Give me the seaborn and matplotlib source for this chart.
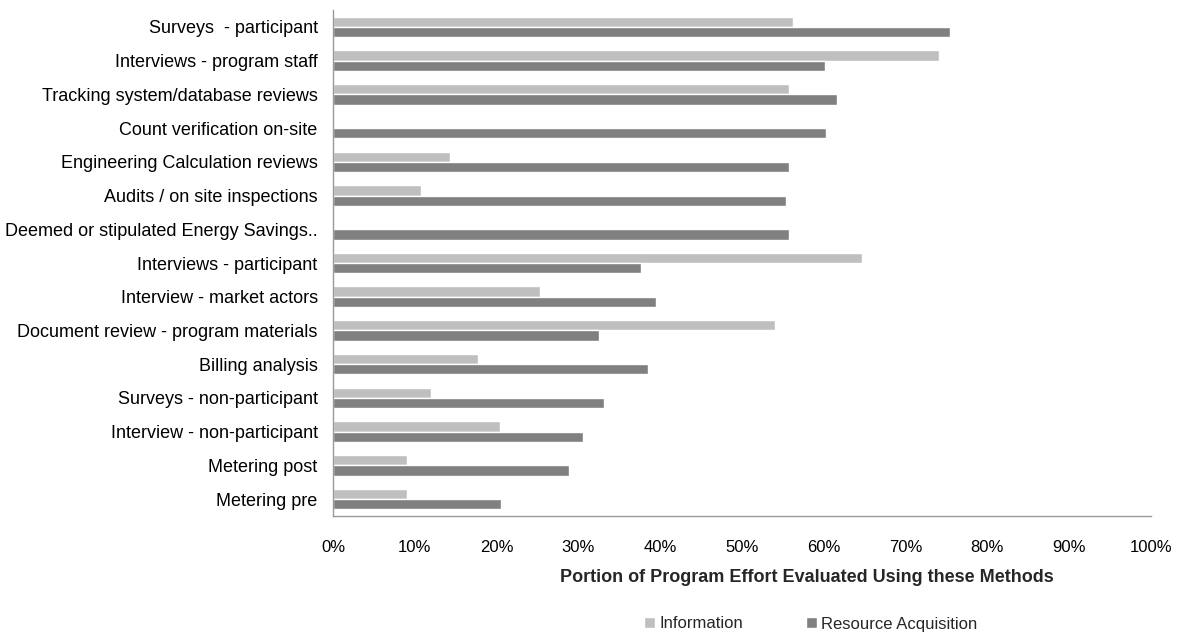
import matplotlib
matplotlib.use("Agg")
import matplotlib.pyplot as plt
import seaborn as sns
import pandas as pd
from matplotlib.ticker import PercentFormatter

categories = [
    "Surveys  - participant",
    "Interviews - program staff",
    "Tracking system/database reviews",
    "Count verification on-site",
    "Engineering Calculation reviews",
    "Audits / on site inspections",
    "Deemed or stipulated Energy Savings..",
    "Interviews - participant",
    "Interview - market actors",
    "Document review - program materials",
    "Billing analysis",
    "Surveys - non-participant",
    "Interview - non-participant",
    "Metering post",
    "Metering pre",
]
information = [56.2, 74.1, 55.7, 0.0, 14.3, 10.8, 0.0, 64.7, 25.3, 54.0, 17.7, 12.0, 20.4, 9.0, 9.0]
resource_acquisition = [75.4, 60.1, 61.6, 60.3, 55.7, 55.4, 55.7, 37.7, 39.5, 32.5, 38.5, 33.1, 30.6, 28.9, 20.5]
series_names = ["Information", "Resource Acquisition"]
x_ticks = [0, 10, 20, 30, 40, 50, 60, 70, 80, 90, 100]

df = pd.DataFrame({
    "Method": categories * 2,
    "Series": [series_names[0]] * len(categories) + [series_names[1]] * len(categories),
    "Value": information + resource_acquisition,
})

sns.set_style("white")
plt.rcParams["font.family"] = ["Liberation Sans", "DejaVu Sans"]

fig = plt.figure(figsize=(11.83, 6.35), dpi=100)
ax = fig.add_axes([333 / 1183, 1 - 516 / 635, (1151 - 333) / 1183, (516 - 10) / 635])

sns.barplot(data=df, y="Method", x="Value", hue="Series", order=categories,
            hue_order=series_names, palette=["#BFBFBF", "#808080"],
            orient="h", width=0.61, ax=ax, saturation=1, errorbar=None)

ax.set_xlim(0, 100)
ax.set_xticks(x_ticks)
ax.xaxis.set_major_formatter(PercentFormatter(decimals=0))
ax.tick_params(axis="x", labelsize=12, pad=17, length=0, colors="black")
ax.tick_params(axis="y", labelsize=13, pad=11, length=0, colors="black")
ax.set_ylabel("")
ax.set_xlabel("Portion of Program Effort Evaluated Using these Methods",
              fontsize=13, fontweight="bold", labelpad=10)
ax.xaxis.set_label_coords((807 - 333) / 818, -(578 - 516) / 506, transform=ax.transAxes)
ax.xaxis.label.set_va("center")
for s in ["top", "right"]:
    ax.spines[s].set_visible(False)
for s in ["left", "bottom"]:
    ax.spines[s].set_color("#999999")
    ax.spines[s].set_linewidth(1)

handles, labels = ax.get_legend_handles_labels()
ax.legend_.remove()
fig.legend(handles, labels, loc="center", bbox_to_anchor=(811 / 1183, 1 - 624 / 635),
           ncol=2, frameon=False, fontsize=12, handlelength=0.65, handleheight=0.65,
           handletextpad=0.25, columnspacing=3.8)

fig.savefig("out.png", dpi=100)
